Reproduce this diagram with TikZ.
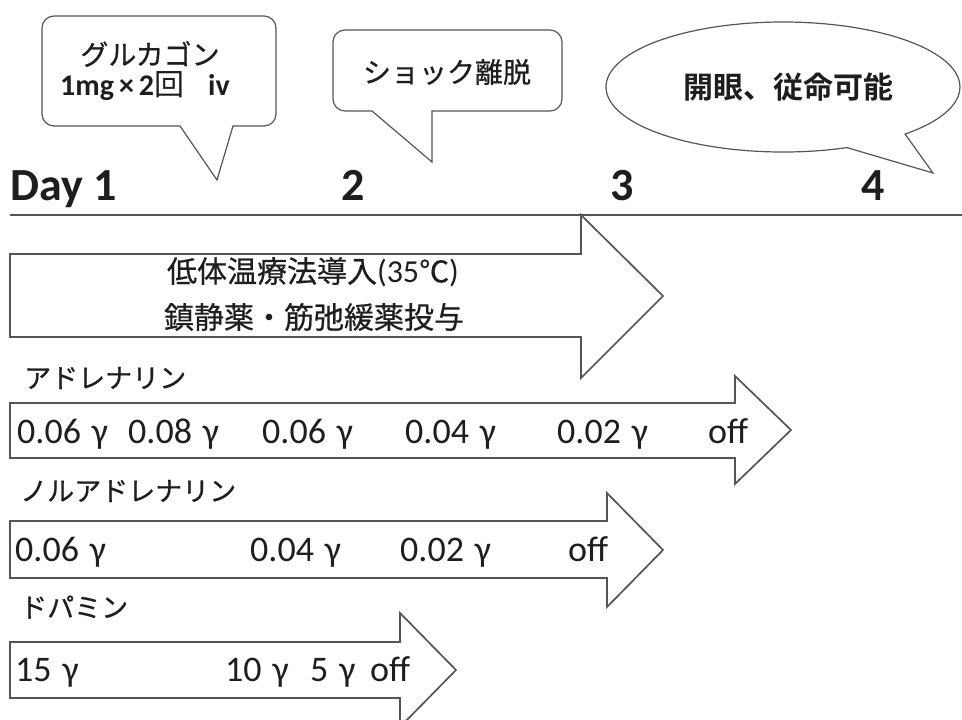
\documentclass[tikz,border=0pt]{standalone}
\usepackage{fontspec}
\setmainfont{Carlito}
\newfontfamily\jp{Noto Sans CJK JP}[FakeBold=0.6]
\newfontfamily\jpb{Noto Sans CJK JP}[BoldFont=*, UprightFont=* Bold]
\definecolor{ink}{HTML}{1E1E1E}
\definecolor{edge}{HTML}{555555}
\begin{document}
\begin{tikzpicture}[x=1pt,y=-1pt,
  blockarrow/.style={draw=edge, line width=1.7pt, fill=white, line join=miter},
  callbox/.style={draw=edge, line width=1.2pt, fill=white, line join=miter},
  dose/.style={font=\fontsize{36}{40}\selectfont, text=ink, inner sep=0pt, anchor=base west},
  jlab/.style={font=\jp\fontsize{27}{30}\selectfont, text=ink, inner sep=0pt, anchor=west},
  jtxt/.style={font=\jp\fontsize{28}{32}\selectfont, text=ink, inner sep=0pt},
  daynum/.style={font=\bfseries\fontsize{46}{50}\selectfont, text=ink, inner sep=0pt}
]
\useasboundingbox (0,0) rectangle (962,720);
\clip (0,0) rectangle (962,720);

% timeline
\coordinate (tlA) at (10,215);
\coordinate (tlB) at (962,215);
\draw[edge, line width=1.8pt] (tlA) -- (tlB);

\node[daynum, anchor=base west] (d1) at (10,200) {Day 1};
\node[daynum, anchor=base] (d2) at (353,200) {2};
\node[daynum, anchor=base] (d3) at (622,200) {3};
\node[daynum, anchor=base] (d4) at (873,200) {4};

% callout 1
\draw[callbox] (180,126) -- (54,126) arc[start angle=90,end angle=180,radius=12]
  -- (42,28) arc[start angle=180,end angle=270,radius=12]
  -- (264,16) arc[start angle=270,end angle=360,radius=12]
  -- (276,114) arc[start angle=0,end angle=90,radius=12]
  -- (233,126) -- (217,180) -- cycle;
\node[jtxt] (glu1) at (150,54) {グルカゴン};
\node[text=ink, inner sep=0pt, font=\bfseries\fontsize{30}{34}\selectfont] (glu2) at (145,86)
  {1mg\,×\,2{\jpb 回}\hspace{0.8em}iv};

% callout 2
\draw[callbox] (372,111) -- (345,111) arc[start angle=90,end angle=180,radius=12]
  -- (333,42) arc[start angle=180,end angle=270,radius=12]
  -- (550,30) arc[start angle=270,end angle=360,radius=12]
  -- (562,99) arc[start angle=0,end angle=90,radius=12]
  -- (432,111) -- (432,162) -- cycle;
\node[jtxt] (shock) at (447,72) {ショック離脱};

% callout 3 (ellipse)
\draw[callbox] (847,147.6) arc[start angle=68.8,end angle=406.4,x radius=177,y radius=65]
  -- (933,173) -- cycle;
\node[jtxt, font=\jpb\fontsize{30}{34}\selectfont] (eyes) at (788,87) {開眼、従命可能};

% hypothermia arrow
\draw[blockarrow] (10,254) -- (581,254) -- (581,215) -- (663,296) -- (581,378) -- (581,337) -- (10,337) -- cycle;
\node[jtxt, font=\jp\fontsize{30}{34}\selectfont] (hyp1) at (313,272) {低体温療法導入{\rmfamily\fontsize{32}{34}\selectfont(35}℃{\rmfamily\fontsize{32}{34}\selectfont)}};
\node[jtxt, font=\jp\fontsize{30}{34}\selectfont] (hyp2) at (314,317) {鎮静薬・筋弛緩薬投与};

% adrenaline
\node[jlab] (adrL) at (24,378) {アドレナリン};
\draw[blockarrow] (10,403) -- (735,403) -- (735,376) -- (791,430) -- (735,484) -- (735,458) -- (10,458) -- cycle;
\node[dose] (a1) at (17,443) {0.06\hspace{0.3em}γ};
\node[dose] (a2) at (128,443) {0.08\hspace{0.3em}γ};
\node[dose] (a3) at (262,443) {0.06\hspace{0.3em}γ};
\node[dose] (a4) at (405,443) {0.04\hspace{0.3em}γ};
\node[dose] (a5) at (557,443) {0.02\hspace{0.3em}γ};
\node[dose] (a6) at (708,443) {off};

% noradrenaline
\node[jlab] (norL) at (20,491) {ノルアドレナリン};
\draw[blockarrow] (10,521) -- (607,521) -- (607,493) -- (663,550) -- (607,607) -- (607,578) -- (10,578) -- cycle;
\node[dose] (n1) at (15,561) {0.06\hspace{0.3em}γ};
\node[dose] (n2) at (250,561) {0.04\hspace{0.3em}γ};
\node[dose] (n3) at (400,561) {0.02\hspace{0.3em}γ};
\node[dose] (n4) at (568,561) {off};

% dopamine
\node[jlab] (dopL) at (20,607) {ドパミン};
\draw[blockarrow] (10,642) -- (400,642) -- (400,613) -- (456,670) -- (400,727) -- (400,698) -- (10,698) -- cycle;
\node[dose] (p1) at (15,681) {15\hspace{0.3em}γ};
\node[dose] (p2) at (225,681) {10\hspace{0.3em}γ};
\node[dose] (p3) at (310,681) {5\hspace{0.3em}γ};
\node[dose] (p4) at (370,681) {off};
\end{tikzpicture}
\end{document}
